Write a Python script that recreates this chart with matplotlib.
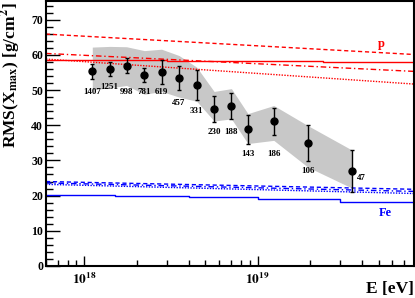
import matplotlib
matplotlib.use('Agg')
import matplotlib.pyplot as plt
from matplotlib.ticker import MultipleLocator, LogLocator, FuncFormatter, NullFormatter
import numpy as np

# measured RMS(Xmax) points
energy = [1.11e18, 1.40e18, 1.75e18, 2.22e18, 2.79e18, 3.52e18, 4.45e18,
          5.61e18, 7.06e18, 8.79e18, 1.24e19, 1.95e19, 3.52e19]
rms = [55.3, 56.1, 56.9, 54.3, 55.2, 53.5, 51.5, 44.6, 45.4, 38.8, 41.1, 35.0, 27.1]
stat_err = [2.1, 2.0, 2.2, 2.1, 3.4, 3.4, 4.2, 3.8, 3.7, 4.0, 3.8, 5.2, 6.0]
sys_up = [62.2, 62.4, 62.3, 61.2, 61.6, 59.8, 56.5, 49.6, 50.4, 43.3, 45.6, 39.9, 32.9]
sys_lo = [50.1, 50.6, 51.3, 48.8, 49.6, 48.0, 46.8, 41.2, 41.8, 34.8, 35.7, 28.1, 22.1]
n_events = ['1407', '1251', '998', '781', '619', '457', '331', '230', '188', '143', '186', '106', '47']
label_y = [49.4, 50.8, 49.4, 49.4, 49.4, 46.2, 44.0, 38.0, 38.0, 31.9, 31.9, 27.0, 25.0]

# model predictions (proton / iron)
model_e = [6e17, 8e19]
p_dashed = [65.9, 60.1]
p_dashdot = [60.4, 55.3]
p_dotted = [58.8, 51.7]
p_solid_e = [6e17, 3.0e18, 2.4e19, 8e19]
p_solid = [58.6, 58.3, 57.9, 57.9]
fe_dashed = [24.0, 21.8]
fe_dashdot = [23.6, 21.2]
fe_dotted = [23.2, 20.6]
fe_solid_e = [6e17, 1.5e18, 4e18, 1e19, 3e19, 8e19]
fe_solid = [20.3, 19.9, 19.5, 19.0, 18.3, 18.3]

plt.rcParams['font.family'] = 'Liberation Serif'
plt.rcParams['font.weight'] = 'bold'
plt.rcParams['mathtext.fontset'] = 'stix'
plt.rcParams['xtick.direction'] = 'in'
plt.rcParams['ytick.direction'] = 'in'

fig = plt.figure(figsize=(4.15, 2.98), dpi=100)
ax = fig.add_axes([46 / 415, 1 - 266 / 298, 368 / 415, 265 / 298])

for s in ax.spines.values():
    s.set_linewidth(1.5)

ax.set_xscale('log')
ax.set_xlim(6e17, 8e19)
ax.set_ylim(0, 75.3)

ax.fill_between(energy, sys_lo, sys_up, color='#c8c8c8', lw=0, zorder=1)

ax.plot(model_e, p_dashed, color='red', lw=1, ls=(0, (3, 2)), zorder=2)
ax.plot(model_e, p_dashdot, color='red', lw=1, ls=(0, (4, 2, 1, 2)), zorder=2)
ax.plot(model_e, p_dotted, color='red', lw=1, ls=(0, (1, 1)), zorder=2)
ax.plot(p_solid_e, p_solid, color='red', lw=1, drawstyle='steps-post', zorder=2)

ax.plot(model_e, fe_dashed, color='blue', lw=1, ls=(0, (3, 2)), zorder=2)
ax.plot(model_e, fe_dashdot, color='blue', lw=1, ls=(0, (4, 2, 1, 2)), zorder=2)
ax.plot(model_e, fe_dotted, color='blue', lw=1, ls=(0, (1, 1)), zorder=2)
ax.plot(fe_solid_e, fe_solid, color='blue', lw=1, drawstyle='steps-post', zorder=2)

ax.errorbar(energy, rms, yerr=stat_err, fmt='o', color='black', ms=5,
            elinewidth=1, capsize=1.5, capthick=1, zorder=3)

for i in range(len(energy)):
    if i == len(energy) - 1:
        ax.text(energy[i] * 1.07, label_y[i], n_events[i], fontsize=6.5,
                ha='left', va='center', zorder=4)
    else:
        ax.text(energy[i], label_y[i], n_events[i], fontsize=6.5,
                ha='center', va='center', zorder=4)

ax.text(5.2e19, 63.2, 'p', color='red', fontsize=9, ha='center', va='center')
ax.text(5.5e19, 15.0, 'Fe', color='blue', fontsize=9, ha='center', va='center')

ax.yaxis.set_major_locator(MultipleLocator(10))
ax.yaxis.set_minor_locator(MultipleLocator(2))
ax.xaxis.set_major_locator(LogLocator(base=10))
ax.xaxis.set_minor_locator(LogLocator(base=10, subs=np.arange(2, 10)))
ax.xaxis.set_major_formatter(FuncFormatter(
    lambda v, p: r'$\mathbf{10^{%d}}$' % int(round(np.log10(v)))))
ax.xaxis.set_minor_formatter(NullFormatter())

ax.tick_params(which='major', length=7, width=1)
ax.tick_params(which='minor', length=4, width=1)
ax.tick_params(axis='y', which='major', length=10, labelsize=8.5, pad=2)
ax.tick_params(axis='y', which='minor', length=5)
ax.tick_params(axis='x', which='major', labelsize=9.5, pad=4)

# axis titles placed ROOT-style at the end of each axis
fig.text(11 / 415, 1 - 2 / 298, r'RMS(X$_{\mathbf{max}}$) [g/cm$^{\mathbf{2}}$]',
         fontsize=12.5, rotation=90, ha='center', va='top')
fig.text(414 / 415, 1 - 289 / 298, 'E [eV]', fontsize=12.5, ha='right', va='center')

fig.savefig('out.png', dpi=100)
